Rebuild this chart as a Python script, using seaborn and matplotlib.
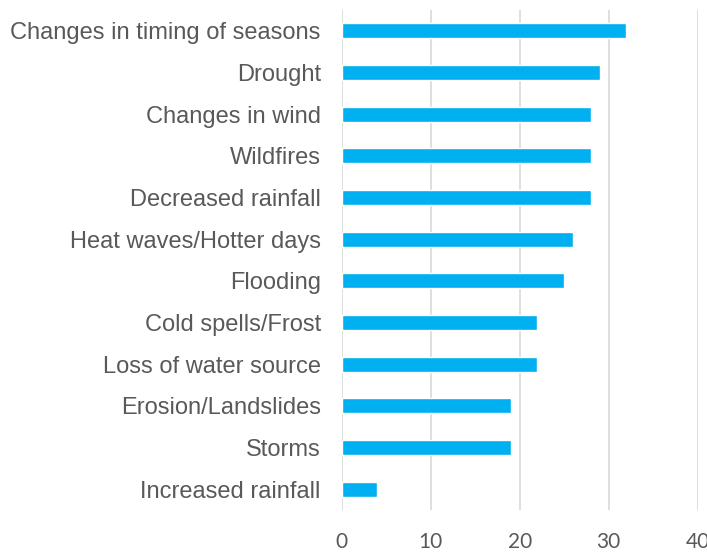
import numpy as np
import pandas as pd
import seaborn as sns
import matplotlib.pyplot as plt

# Chart data
impacts = ["Changes in timing of seasons", "Drought", "Changes in wind", "Wildfires",
           "Decreased rainfall", "Heat waves/Hotter days", "Flooding", "Cold spells/Frost",
           "Loss of water source", "Erosion/Landslides", "Storms", "Increased rainfall"]
counts = [32, 29, 28, 28, 28, 26, 25, 22, 22, 19, 19, 4]
x_ticks = [0, 10, 20, 30, 40]

df = pd.DataFrame({"impact": impacts, "count": counts})

sns.set_style("white")
fig = plt.figure(figsize=(7.07, 5.52), dpi=100)
ax = fig.add_axes([0.4833, 0.0761, 0.5035, 0.9058])

sns.barplot(data=df, x="count", y="impact", color="#00B0F0", saturation=1,
            width=0.36, ax=ax, zorder=3)

ax.set_xlim(0, 40)
ax.set_xticks(x_ticks)
ax.set_xlabel("")
ax.set_ylabel("")
ax.grid(axis="x", color="#D9D9D9", linewidth=1.2, zorder=0)
for s in ax.spines.values():
    s.set_visible(False)
ax.tick_params(axis="both", length=0)
ax.tick_params(axis="y", pad=15)
ax.tick_params(axis="x", pad=16)

for lbl in ax.get_yticklabels():
    lbl.set_fontfamily("Liberation Sans")
    lbl.set_fontsize(17)
    lbl.set_color("#595959")
for lbl in ax.get_xticklabels():
    lbl.set_fontfamily("Lato")
    lbl.set_fontsize(15)
    lbl.set_color("#595959")
    lbl.set_clip_on(False)

fig.savefig("out.png", dpi=100)
